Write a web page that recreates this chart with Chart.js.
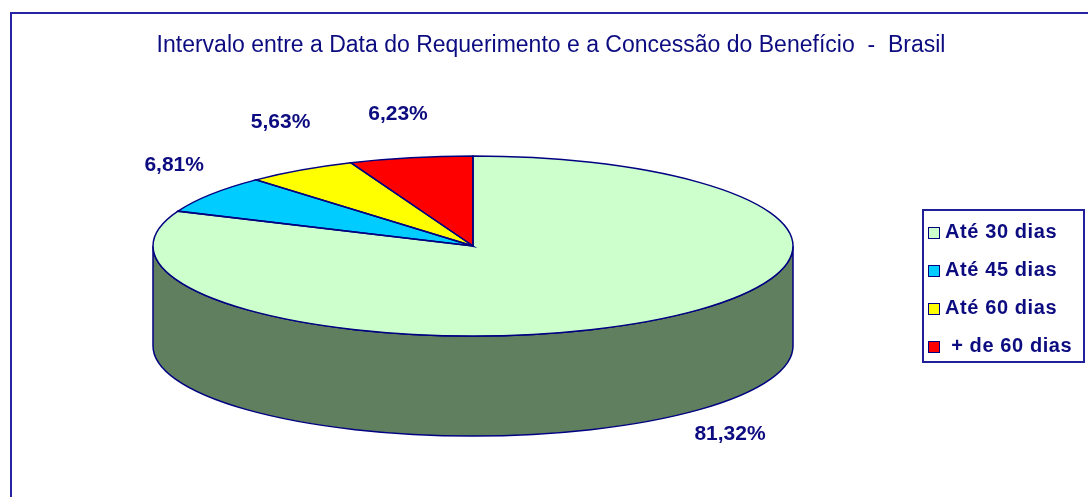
<!DOCTYPE html>
<html>
<head>
<meta charset="utf-8">
<script src="https://cdn.jsdelivr.net/npm/chart.js@4.4.1/dist/chart.umd.min.js"></script>
<style>
    html, body { margin: 0; padding: 0; background: #fff; overflow: hidden; }
    #wrap { position: relative; width: 1088px; height: 497px; }
    #frame { position: absolute; left: 10px; top: 12px; width: 1100px; height: 520px; border: 2px solid #2424a4; box-sizing: border-box; }
    #grafico { position: absolute; left: 0; top: 0; }
    #titulo {
        position: absolute; left: 151px; width: 800px; top: 31px;
        text-align: center; font-family: "Liberation Sans", Arial, sans-serif;
        font-size: 23px; line-height: 26px; color: #0c0c80; white-space: nowrap;
    }
    #legenda {
        position: absolute; left: 922px; top: 209px; width: 163px; height: 154px;
        border: 2px solid #20209a; box-sizing: border-box; padding-top: 1px;
        font-family: "Liberation Sans", Arial, sans-serif; font-weight: bold;
        font-size: 20px; letter-spacing: 0.6px; color: #0c0c80;
    }
    .item { height: 38px; line-height: 38px; white-space: nowrap; }
    .marca { display: inline-block; width: 10px; height: 10px; border: 1px solid #000080; margin: 0 5px 0 4px; vertical-align: -1px; }
</style>
</head>
<body>
<div id="wrap">
    <div id="frame"></div>
    <canvas id="grafico" width="1088" height="497"></canvas>
    <div id="titulo">Intervalo entre a Data do Requerimento e a Concessão do Benefício&nbsp;&nbsp;-&nbsp;&nbsp;Brasil</div>
    <div id="legenda"></div>
</div>
<script>
// --- dados ---
const categorias = ['Até 30 dias', 'Até 45 dias', 'Até 60 dias', '+ de 60 dias'];
const percentuais = [81.32, 6.81, 5.63, 6.23];

// --- cores ---
const coresTopo = ['#ccffcc', '#00ccff', '#ffff00', '#ff0000'];
const coresLado = ['#5f7f5f', '#00708c', '#8c8c00', '#8c0000'];

// plugin que "achata" a pizza e desenha a parede lateral (efeito 3D do Excel)
const pizza3d = {
    id: 'pizza3d',
    beforeDatasetsDraw(chart, args, opts) {
        const ctx = chart.ctx;
        const arcs = chart.getDatasetMeta(0).data;
        const { cx, cy, rx, ry, depth } = opts;

        // paredes laterais (só a parte da frente, angulos entre 0 e PI)
        arcs.forEach((arc, i) => {
            for (let k = -1; k <= 1; k++) {
                const a = Math.max(arc.startAngle, 2 * Math.PI * k);
                const b = Math.min(arc.endAngle, 2 * Math.PI * k + Math.PI);
                if (b <= a) continue;
                ctx.beginPath();
                ctx.ellipse(cx, cy, rx, ry, 0, a, b);
                ctx.ellipse(cx, cy + depth, rx, ry, 0, b, a, true);
                ctx.closePath();
                ctx.fillStyle = coresLado[i];
                ctx.fill();
                ctx.strokeStyle = opts.lineColor;
                ctx.lineWidth = opts.lineWidth;
                ctx.stroke();
            }
        });

        // o Chart.js desenha o topo dentro desta transformação
        const a0 = arcs[0];
        const R = a0.outerRadius;
        ctx.save();
        ctx.translate(cx, cy);
        ctx.scale(rx / R, ry / R);
        ctx.translate(-a0.x, -a0.y);
    },
    afterDatasetsDraw(chart, args, opts) {
        const ctx = chart.ctx;
        ctx.restore();
        const arcs = chart.getDatasetMeta(0).data;
        const { cx, cy, rx, ry, depth } = opts;

        // contorno de cada fatia
        ctx.strokeStyle = opts.lineColor;
        ctx.lineWidth = opts.lineWidth;
        arcs.forEach(arc => {
            ctx.beginPath();
            ctx.moveTo(cx, cy);
            ctx.ellipse(cx, cy, rx, ry, 0, arc.startAngle, arc.endAngle);
            ctx.closePath();
            ctx.stroke();
        });

        // rótulos de porcentagem
        ctx.fillStyle = opts.labelColor;
        ctx.font = 'bold 21px "Liberation Sans", Arial, sans-serif';
        ctx.textAlign = 'center';
        ctx.textBaseline = 'middle';
        arcs.forEach((arc, i) => {
            const mid = (arc.startAngle + arc.endAngle) / 2;
            const s = Math.sin(mid);
            const off = opts.labelOffsets[i];
            const x = cx + Math.cos(mid) * opts.labelRx + off[0];
            const y = cy + s * opts.labelRy + (s > 0 ? depth : 0) + off[1];
            const txt = percentuais[i].toFixed(2).replace('.', ',') + '%';
            ctx.fillText(txt, x, y);
        });
    }
};

const grafico = new Chart(document.getElementById('grafico'), {
    type: 'pie',
    data: {
        labels: categorias,
        datasets: [{
            data: percentuais,
            backgroundColor: coresTopo,
            borderWidth: 0,
            clip: false
        }]
    },
    options: {
        responsive: false,
        animation: false,
        events: [],
        plugins: {
            legend: { display: false },
            tooltip: { enabled: false },
            pizza3d: {
                cx: 473, cy: 246, rx: 320, ry: 90, depth: 100,
                lineColor: '#000080', lineWidth: 1.5,
                labelColor: '#0c0c80',
                labelRx: 365, labelRy: 140,
                labelOffsets: [[55, -28], [0, 0], [4, -6], [-4, 6]]
            }
        }
    },
    plugins: [pizza3d]
});

// legenda em HTML
const legenda = document.getElementById('legenda');
categorias.forEach((nome, i) => {
    const item = document.createElement('div');
    item.className = 'item';
    const marca = document.createElement('span');
    marca.className = 'marca';
    marca.style.background = coresTopo[i];
    item.appendChild(marca);
    item.appendChild(document.createTextNode(i === 3 ? '\u00a0' + nome : nome));
    legenda.appendChild(item);
});
</script>
</body>
</html>
